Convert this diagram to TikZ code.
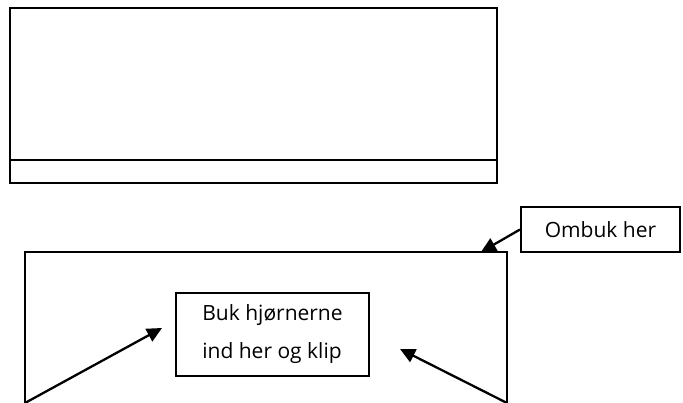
\documentclass[tikz,border=0pt]{standalone}
\usepackage{fontspec}
\setmainfont{Open Sans}
\usetikzlibrary{arrows.meta}

\tikzset{
	boks/.style = {draw, line width=2pt, inner sep=0pt, align=left,
		font=\fontsize{21}{38}\selectfont},
	pil/.style = {line width=2.3pt, -{Triangle[length=15pt,width=14pt]}}
}

\begin{document}
\begin{tikzpicture}[x = {(1pt,0pt)},
	y = {(0pt,-1pt)}]
	\useasboundingbox (0,0) rectangle (683,403);
	
	% the top sheet with its fold strip
	\draw[line width=2.2pt] (10,8) rectangle (497,183);
	\draw[line width=2.2pt] (10,160) -- (497,160);
	
	% the lower sheet, open at the bottom
	\coordinate (hjvenstre) at (25,403);
	\coordinate (hjhoejre) at (507,403);
	\draw[line width=2pt] (hjvenstre) -- (25,252) -- (507,252) -- (hjhoejre);
	
	\node[boks, minimum width=159pt, minimum height=45pt] (ombuk) at (600.5,229.5) {Ombuk her};
	\node[boks, minimum width=193pt, minimum height=83pt] (klip) at (272.5,334.5) {Buk hjørnerne\\ind her og klip};
	
	\coordinate (foldpunkt) at (481,252);
	\coordinate (venstrespids) at (162,328);
	\coordinate (hoejrespids) at (400,349);
	
	\draw[pil] (ombuk.west) -- (foldpunkt);
	\draw[pil] (hjvenstre) -- (venstrespids);
	\draw[pil] (hjhoejre) -- (hoejrespids);
\end{tikzpicture}
\end{document}
